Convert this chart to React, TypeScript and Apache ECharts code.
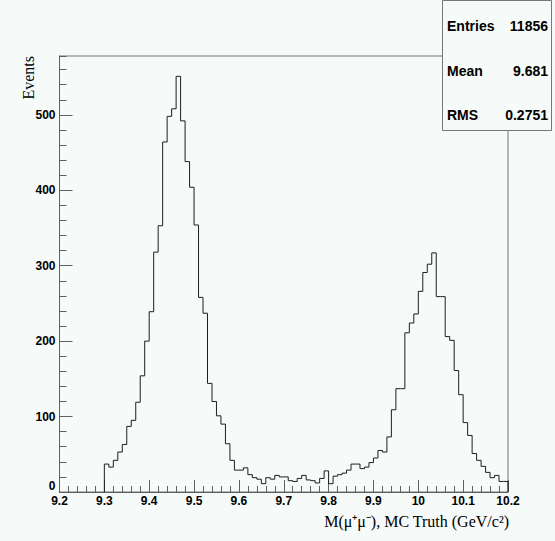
import React, { useEffect, useRef } from "react";
import * as echarts from "echarts";

// Histogram binning (GeV/c^2)
const binLow = 9.3;
const binWidth = 0.01;
// Event counts per bin, from 9.30 to 10.20
const counts = [
  37, 33, 42, 53, 63, 87, 95, 119, 154, 200,
  239, 318, 353, 464, 498, 508, 551, 492, 438, 404,
  354, 258, 237, 144, 120, 101, 90, 64, 42, 29,
  29, 32, 23, 19, 17, 11, 19, 17, 22, 20,
  20, 15, 14, 18, 22, 16, 15, 12, 18, 28,
  11, 21, 23, 25, 29, 37, 37, 31, 33, 39,
  45, 55, 53, 73, 109, 137, 137, 211, 224, 236,
  266, 291, 302, 317, 259, 259, 206, 201, 161, 129,
  92, 75, 51, 42, 34, 26, 19, 22, 14, 14,
];
const statNames = ["Entries", "Mean", "RMS"];
const statValues = ["11856", "9.681", "0.2751"];
const xMin = 9.2;
const xMax = 10.2;
const yMax = 578;

const BG = "#f6faf8";
const AXIS = "#606060";

export default function App() {
  const ref = useRef<HTMLDivElement>(null);
  useEffect(() => {
    if (!ref.current) return;
    const chart = echarts.init(ref.current, null, { renderer: "svg" });
    const pts: [number, number][] = [];
    const r = (v: number) => Math.round(v * 1000) / 1000;
    pts.push([binLow, 0]);
    counts.forEach((c, i) => pts.push([r(binLow + i * binWidth), c]));
    const last = r(binLow + counts.length * binWidth);
    pts.push([last, counts[counts.length - 1]]);
    pts.push([last, 0]);

    const tickFont = {
      fontFamily: "'Liberation Sans', Arial, sans-serif",
      fontWeight: "bold" as const,
      fontSize: 12,
      color: "#000",
    };
    const statFont = "bold 14px 'Liberation Sans', Arial, sans-serif";

    const graphics: any[] = [
      {
        type: "rect",
        z: 100,
        shape: { x: 442.5, y: 0.5, width: 109, height: 130 },
        style: { fill: BG, stroke: "#777", lineWidth: 1 },
      },
      {
        type: "text",
        z: 100,
        x: 28,
        y: 56,
        rotation: Math.PI / 2,
        style: {
          text: "Events",
          font: "16px 'Liberation Serif', 'Times New Roman', serif",
          fill: "#000",
          align: "right",
          verticalAlign: "middle",
        },
      },
      {
        type: "text",
        z: 100,
        x: 509,
        y: 521,
        style: {
          text: "M(μ⁺μ⁻), MC Truth (GeV/c²)",
          font: "16px 'Liberation Serif', 'Times New Roman', serif",
          fill: "#000",
          align: "right",
          verticalAlign: "middle",
        },
      },
      {
        // y-axis zero label, nudged up as in the reference so it clears "9.2"
        type: "text",
        z: 100,
        x: 55.5,
        y: 486,
        style: {
          text: "0",
          font: "bold 12px 'Liberation Sans', Arial, sans-serif",
          fill: "#000",
          align: "right",
          verticalAlign: "middle",
        },
      },
    ];
    statNames.forEach((n, i) => {
      const y = 26 + i * 44.5;
      graphics.push({
        type: "text",
        z: 101,
        x: 447,
        y,
        style: { text: n, font: statFont, fill: "#000", align: "left", verticalAlign: "middle" },
      });
      graphics.push({
        type: "text",
        z: 101,
        x: 548,
        y,
        style: { text: statValues[i], font: statFont, fill: "#000", align: "right", verticalAlign: "middle" },
      });
    });

    chart.setOption({
      animation: false,
      backgroundColor: BG,
      grid: {
        left: 59.5,
        right: 47,
        top: 56,
        bottom: 49,
        show: true,
        borderColor: "#777",
        borderWidth: 1,
        backgroundColor: "transparent",
      },
      xAxis: {
        type: "value",
        min: xMin,
        max: xMax,
        interval: 0.1,
        axisLine: { show: true, lineStyle: { color: AXIS, width: 1 } },
        axisTick: { show: true, inside: true, length: 12, lineStyle: { color: AXIS } },
        minorTick: { show: true, splitNumber: 5, length: 6, lineStyle: { color: AXIS } },
        splitLine: { show: false },
        minorSplitLine: { show: false },
        axisLabel: {
          ...tickFont,
          margin: 3,
          showMinLabel: true,
          showMaxLabel: true,
          formatter: (v: number) => String(Math.round(v * 10) / 10),
        },
      },
      yAxis: [
        {
          type: "value",
          min: 0,
          max: yMax,
          interval: 100,
          position: "left",
          axisLine: { show: true, lineStyle: { color: AXIS, width: 1 } },
          axisTick: { show: true, inside: true, length: 13, lineStyle: { color: AXIS } },
          splitLine: { show: false },
          axisLabel: {
            ...tickFont,
            margin: 4,
            showMinLabel: false,
            showMaxLabel: false,
            formatter: (v: number) => (v % 100 === 0 && v > 0 ? String(v) : ""),
          },
        },
        {
          type: "value",
          min: 0,
          max: yMax,
          interval: 20,
          position: "left",
          offset: 0,
          axisLine: { show: false },
          axisTick: { show: true, inside: true, length: 7, lineStyle: { color: AXIS } },
          splitLine: { show: false },
          axisLabel: { show: false },
        },
      ],
      series: [
        {
          type: "line",
          step: "end",
          data: pts,
          showSymbol: false,
          symbol: "none",
          lineStyle: { color: "#1e1e1e", width: 1 },
          z: 3,
        },
      ],
      graphic: graphics,
    });
    return () => chart.dispose();
  }, []);
  return (
    <div
      ref={ref}
      style={{ position: "absolute", left: 0, top: 0, width: 555, height: 541, background: BG }}
    />
  );
}
